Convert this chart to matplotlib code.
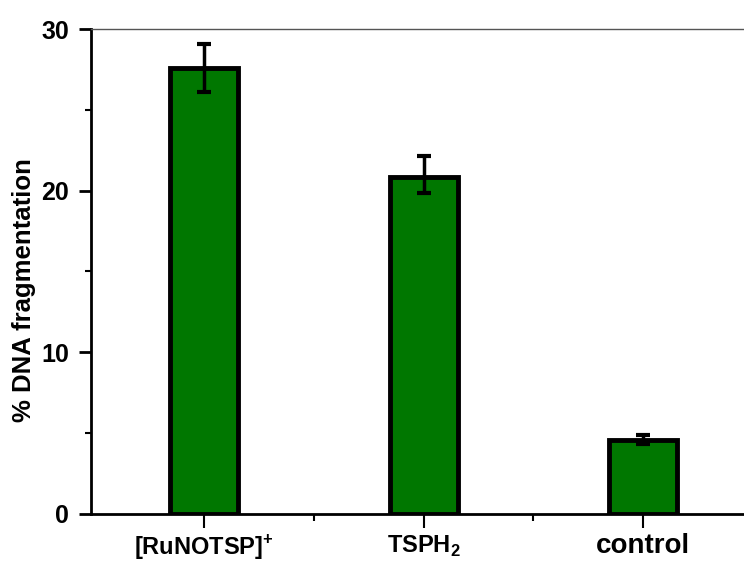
import matplotlib.pyplot as plt
from matplotlib.ticker import MultipleLocator, FixedLocator

plt.rcParams['font.family'] = ['Liberation Sans', 'DejaVu Sans']
plt.rcParams['font.weight'] = 'bold'
plt.rcParams['mathtext.fontset'] = 'custom'
plt.rcParams['mathtext.rm'] = 'Liberation Sans:bold'
plt.rcParams['mathtext.bf'] = 'Liberation Sans:bold'

labels = ['[RuNOTSP]$^{\\mathbf{+}}$', 'TSPH$_{\\mathbf{2}}$', 'control']
values = [27.6, 20.85, 4.6]
err_low = [1.5, 1.0, 0.3]
err_high = [1.5, 1.3, 0.3]
pos = [1, 2, 3]

fig = plt.figure(figsize=(7.44, 5.61), dpi=100)
ax = fig.add_axes([0.1223, 0.0838, 0.8777, 0.8645])

ax.bar(pos, values, width=0.31, color='#007700', edgecolor='black', linewidth=3.5, zorder=2)
ax.errorbar(pos, values, yerr=[err_low, err_high], fmt='none', ecolor='black',
            elinewidth=2.5, capsize=5, capthick=3, zorder=3)

ax.set_xlim(0.485, 3.46)
ax.set_ylim(0, 30)
fig.text(24 / 744, 1 - 290 / 561, '% DNA fragmentation', rotation=90,
         ha='center', va='center', fontsize=18.5, fontweight='bold')

ax.set_xticks(pos)
ax.set_xticklabels(labels)
for t, fs in zip(ax.get_xticklabels(), [17, 17, 20]):
    t.set_fontsize(fs)
    t.set_fontweight('bold')
ax.xaxis.set_minor_locator(FixedLocator([1.5, 2.5]))
ax.yaxis.set_major_locator(MultipleLocator(10))
ax.yaxis.set_minor_locator(MultipleLocator(5))

ax.tick_params(axis='y', which='major', length=9, width=2, labelsize=18, pad=7)
ax.tick_params(axis='y', which='minor', length=4, width=1.5)
ax.tick_params(axis='x', which='major', length=10, width=1.5, pad=4)
ax.tick_params(axis='x', which='minor', length=5, width=1.5)
for t in ax.get_yticklabels():
    t.set_fontweight('bold')

ax.spines['right'].set_visible(False)
ax.spines['top'].set_color('#555555')
ax.spines['top'].set_linewidth(1)
ax.spines['left'].set_linewidth(2)
ax.spines['bottom'].set_linewidth(2)

fig.savefig('out.png', dpi=100)
